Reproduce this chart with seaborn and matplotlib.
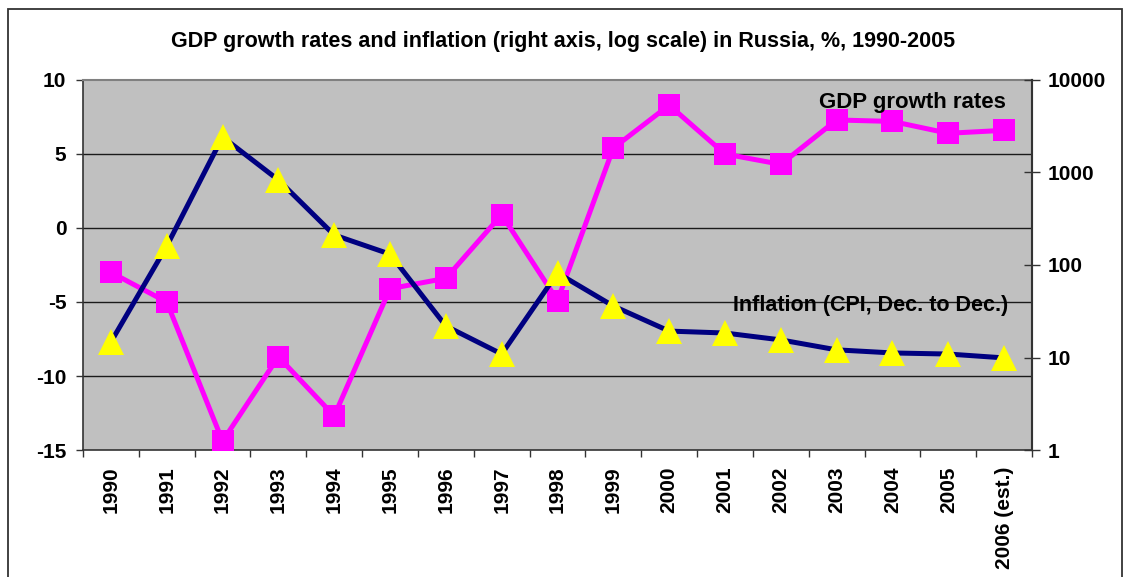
import matplotlib
matplotlib.use("Agg")
import matplotlib.pyplot as plt
import seaborn as sns
import numpy as np
import pandas as pd
from matplotlib.patches import Rectangle

years = ["1990", "1991", "1992", "1993", "1994", "1995", "1996", "1997", "1998",
         "1999", "2000", "2001", "2002", "2003", "2004", "2005", "2006 (est.)"]
gdp_growth = [-3.0, -5.0, -14.4, -8.7, -12.7, -4.1, -3.4, 0.9, -4.9,
              5.4, 8.3, 5.0, 4.3, 7.3, 7.2, 6.4, 6.6]
inflation = [14.7, 160, 2420, 830, 211, 131, 21.9, 10.9, 82,
             36, 19.3, 18.4, 15.5, 12.1, 11.2, 10.9, 9.9]

left_ticks = [-15, -10, -5, 0, 5, 10]
right_ticks = [1, 10, 100, 1000, 10000]

sns.set_style("white")
plt.rcParams["font.family"] = ["Liberation Sans", "DejaVu Sans"]
plt.rcParams["font.weight"] = "bold"
plt.rcParams["text.color"] = "black"
plt.rcParams["xtick.color"] = "black"
plt.rcParams["ytick.color"] = "black"
plt.rcParams["axes.labelcolor"] = "black"

df = pd.DataFrame({"pos": np.arange(len(years)), "year": years,
                   "gdp": gdp_growth, "cpi": inflation})

fig = plt.figure(figsize=(11.26, 5.77), dpi=100)
fig.patch.set_facecolor("white")
# outer chart frame
fig.add_artist(Rectangle((8 / 1126, -0.1), (1122 - 8) / 1126, 1 - 9 / 577 + 0.1,
                         transform=fig.transFigure, fill=False,
                         edgecolor="#333333", linewidth=1.3))

L, R, T, B = 83 / 1126, 1032 / 1126, 1 - 80 / 577, 1 - 450 / 577
ax = fig.add_axes([L, B, R - L, T - B])
ax.set_facecolor("#C0C0C0")

sns.lineplot(data=df, x="pos", y="gdp", ax=ax, color="#FF00FF", linewidth=3.6,
             marker="s", markersize=16.5, markeredgewidth=0,
             markerfacecolor="#FF00FF", zorder=3)
ax.set_xlim(-0.5, len(years) - 0.5)
ax.set_ylim(-15, 10)
ax.set_yticks(left_ticks)
ax.set_yticklabels([str(v) for v in left_ticks], fontsize=15, fontweight="bold")
for v in left_ticks[1:-1]:
    ax.axhline(v, color="#1a1a1a", linewidth=1.0, zorder=1)
ax.set_xticks(np.arange(len(years) + 1) - 0.5)
ax.set_xticklabels([])
ax.set_xticks(np.arange(len(years)), minor=True)
ax.set_xticklabels(years, minor=True, rotation=90, fontsize=15, fontweight="bold",
                   va="top")
ax.tick_params(axis="x", which="major", direction="out", length=5, width=1,
               color="#333333", bottom=True)
ax.tick_params(axis="x", which="minor", length=0, pad=12, bottom=True,
               labelcolor="black")
ax.tick_params(axis="y", direction="out", length=5, width=1, color="#333333",
               left=True, pad=7, labelcolor="black")
ax.set_xlabel("")
ax.set_ylabel("")
for s in ["top", "right"]:
    ax.spines[s].set_color("#808080")
    ax.spines[s].set_linewidth(1.5)
ax.spines["left"].set_color("#333333")
ax.spines["bottom"].set_color("#333333")
ax.spines["left"].set_linewidth(1.2)
ax.spines["bottom"].set_linewidth(1.2)
if ax.get_legend():
    ax.get_legend().remove()

ax2 = ax.twinx()
ax2.set_yscale("log")
sns.lineplot(data=df, x="pos", y="cpi", ax=ax2, color="#000080", linewidth=3.6,
             marker="^", markersize=18.5, markeredgewidth=0,
             markerfacecolor="#FFFF00", zorder=4)
ax2.set_ylim(1, 10000)
ax2.set_xlim(-0.5, len(years) - 0.5)
ax2.set_yticks(right_ticks)
ax2.set_yticklabels([str(v) for v in right_ticks], fontsize=15, fontweight="bold")
ax2.yaxis.set_minor_locator(matplotlib.ticker.NullLocator())
ax2.tick_params(axis="y", direction="inout", length=12, width=1, color="#333333",
                right=True, pad=5, labelcolor="black")
ax2.set_ylabel("")
ax2.set_xlabel("")
ax2.spines["right"].set_color("#333333")
ax2.spines["right"].set_linewidth(1.5)
for s in ["top", "left", "bottom"]:
    ax2.spines[s].set_visible(False)
if ax2.get_legend():
    ax2.get_legend().remove()

ax.text(1006 / 1126, 1 - 102 / 577, "GDP growth rates", transform=fig.transFigure,
        ha="right", va="center", fontsize=16, fontweight="bold", color="black",
        zorder=10)
ax2.text(1008 / 1126, 1 - 306 / 577, "Inflation (CPI, Dec. to Dec.)",
         transform=fig.transFigure, ha="right", va="center", fontsize=15.5,
         fontweight="bold", color="black", zorder=10)

fig.text(563 / 1126, 1 - 41 / 577,
         "GDP growth rates and inflation (right axis, log scale) in Russia, %, 1990-2005",
         ha="center", va="center", fontsize=15.5, fontweight="bold", color="black")

fig.savefig("out.png", dpi=100, facecolor="white")
